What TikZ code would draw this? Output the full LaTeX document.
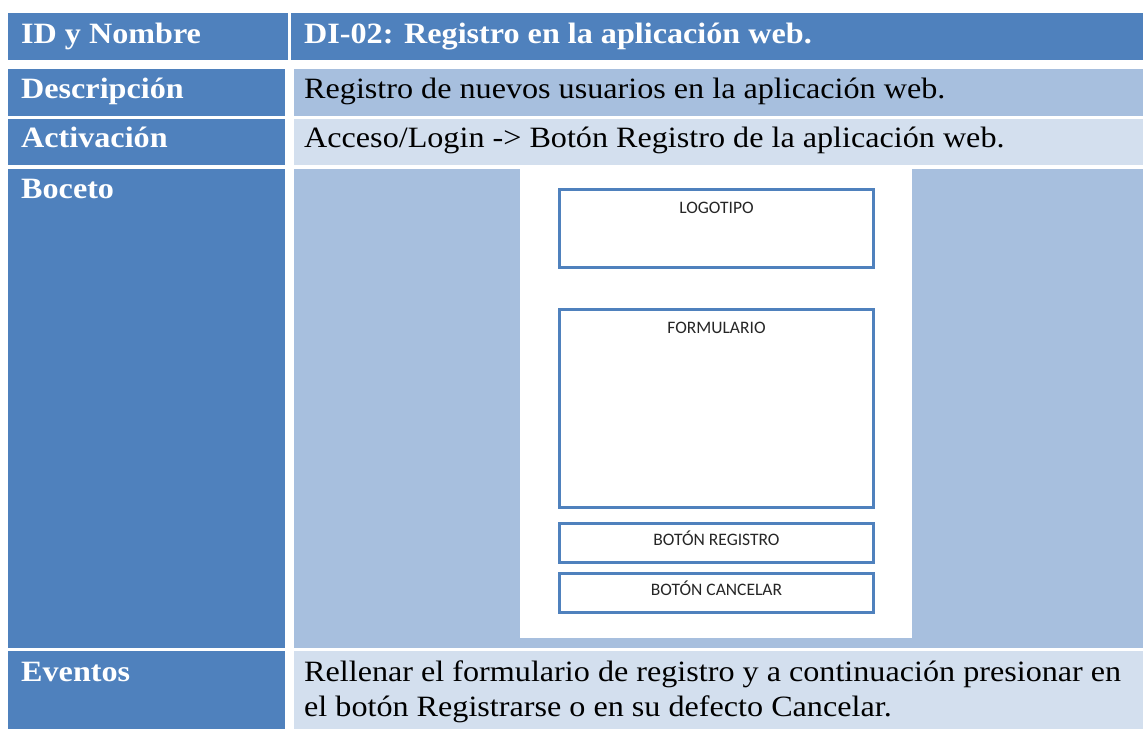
\documentclass[tikz,border=0pt]{standalone}
\usepackage{fontspec}
\setmainfont{Liberation Serif}[FakeStretch=1.09]
\newfontfamily\mockfont{Carlito}
\definecolor{hdblue}{HTML}{4F81BD}
\definecolor{rowdark}{HTML}{A7BFDE}
\definecolor{rowlight}{HTML}{D3DFEE}
\tikzset{
CELL/.style={draw=none, fill=#1},
CELL/.default = rowdark,
KEY/.style={anchor=base west, inner sep=0pt, text=white, font=\fontsize{29.5}{35}\selectfont\bfseries},
VAL/.style={anchor=base west, inner sep=0pt, text=black, font=\fontsize{29.5}{35}\selectfont},
MOCK/.style={draw=hdblue, line join=miter, line width=3pt},
MOCKTEXT/.style={anchor=base, inner sep=0pt, text=black!85, font=\mockfont\fontsize{17.5}{20}\selectfont},
}
\begin{document}
\begin{tikzpicture}
[x=1pt,y=-1pt]
	\useasboundingbox (0,0) rectangle (1143,729);
	%Header
	\path[CELL=hdblue] (8,13) rectangle (288,60);
	\path[CELL=hdblue] (291,13) rectangle (1143,60);
	%Left column
	\foreach \ya/\yb in {69/116,119/165,169/648,651/729}
		\path[CELL=hdblue] (8,\ya) rectangle (285,\yb);
	%Right column
	\path[CELL] (294,69) rectangle (1143,116);
	\path[CELL=rowlight] (294,119) rectangle (1143,165);
	\path[CELL] (294,169) rectangle (1143,648);
	\path[CELL=rowlight] (294,651) rectangle (1143,729);
	%Labels
	\node[KEY] (idkey) at (21,43) {ID y Nombre};
	\node[KEY] (idval) at (304,43) {DI-02: Registro en la aplicación web.};
	\node[KEY] (desckey) at (21,98) {Descripción};
	\node[VAL] (descval) at (304,98) {Registro de nuevos usuarios en la aplicación web.};
	\node[KEY] (actkey) at (21,147) {Activación};
	\node[VAL] (actval) at (304,147) {Acceso/Login -> Botón Registro de la aplicación web.};
	\node[KEY] (bockey) at (21,198) {Boceto};
	\node[KEY] (evkey) at (21,681) {Eventos};
	\node[VAL] (evval1) at (304,681) {Rellenar el formulario de registro y a continuación presionar en};
	\node[VAL] (evval2) at (304,716) {el botón Registrarse o en su defecto Cancelar.};
	%Sketch
	\fill[white] (520,169) rectangle (912,638);
	\draw[MOCK] (559.5,189.5) rectangle (873.5,267.5);
	\draw[MOCK] (559.5,309.5) rectangle (873.5,507.5);
	\draw[MOCK] (559.5,523.5) rectangle (873.5,562.5);
	\draw[MOCK] (559.5,573.5) rectangle (873.5,612.5);
	\node[MOCKTEXT] (logo) at (716.5,213) {LOGOTIPO};
	\node[MOCKTEXT] (form) at (716.5,333) {FORMULARIO};
	\node[MOCKTEXT] (btnreg) at (716.5,545) {BOTÓN REGISTRO};
	\node[MOCKTEXT] (btncan) at (716.5,595) {BOTÓN CANCELAR};
\end{tikzpicture}
\end{document}
